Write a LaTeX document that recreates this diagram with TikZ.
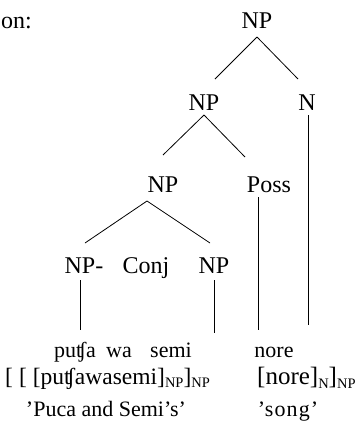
\documentclass[tikz,border=0pt]{standalone}
\usepackage{fontspec}
\setmainfont{Liberation Serif}
\newcommand{\sbx}[1]{\raisebox{-0.35ex}{\fontsize{14.5}{14.5}\selectfont #1}}
\begin{document}
\begin{tikzpicture}[x=1pt,y=-1pt,
  lab/.style={inner sep=0pt, anchor=base, font=\fontsize{24}{26}\selectfont},
  leaf/.style={inner sep=0pt, anchor=base, font=\fontsize{22}{24}\selectfont},
  brk/.style={inner sep=0pt, font=\fontsize{23.5}{25}\selectfont},
  edge/.style={line width=0.8pt}]
\useasboundingbox (0,0) rectangle (364,440);
\node[lab, anchor=base west] (on) at (1,28) {on:};
\node[lab] (np1) at (257,28) {NP};
\node[lab] (np2) at (204,110) {NP};
\node[lab] (n) at (307,110) {N};
\node[lab] (np3) at (163,192) {NP};
\node[lab] (poss) at (269,192) {Poss};
\node[lab] (npa) at (84,273) {NP-};
\node[lab] (conj) at (146,273) {Conj};
\node[lab] (np4) at (214,273) {NP};
\node[leaf] (putsa) at (75,357) {puʧa};
\node[leaf] (wa) at (119,357) {wa};
\node[leaf] (semi) at (171,357) {semi};
\node[leaf] (nore) at (274,357) {nore};
\node[brk, anchor=base west] (br1) at (5,384) {[\hspace{6pt}[\hspace{6pt}[puʧawasemi]\sbx{NP}]\sbx{NP}};
\node[brk, anchor=base west, font=\fontsize{25}{27}\selectfont] (br2) at (257,384) {[nore]\sbx{N}]\sbx{NP}};
\node[leaf] (gl1) at (106,416) {'Puca and Semi's'};
\node[leaf, font=\fontsize{22}{24}\selectfont\addfontfeatures{LetterSpace=5}] (gl2) at (288,416) {'song'};
\coordinate (possend) at (258,330);
\draw[edge] ([yshift=-9pt]np1.base) -- ([xshift=11pt,yshift=31pt]np2.base);
\draw[edge] ([yshift=-9pt]np1.base) -- ([xshift=-9pt,yshift=31pt]n.base);
\draw[edge] ([yshift=-5pt]np2.base) -- ([yshift=37pt]np3.base);
\draw[edge] ([yshift=-5pt]np2.base) -- ([xshift=-24pt,yshift=35pt]poss.base);
\draw[edge] ([xshift=1pt,yshift=-5pt]n.base) -- ([xshift=34pt,yshift=32pt]nore.base);
\draw[edge] ([xshift=-16pt,yshift=-9pt]np3.base) -- ([xshift=1pt,yshift=30pt]npa.base);
\draw[edge] ([xshift=-16pt,yshift=-9pt]np3.base) -- ([xshift=-4pt,yshift=30pt]np4.base);
\draw[edge] ([xshift=-11pt,yshift=-5pt]poss.base) -- (possend);
\draw[edge] ([xshift=-4pt,yshift=-7pt]npa.base) -- ([xshift=5pt,yshift=27pt]putsa.base);
\draw[edge] ([yshift=-7pt]np4.base) -- ([xshift=43pt,yshift=24pt]semi.base);
\end{tikzpicture}
\end{document}
